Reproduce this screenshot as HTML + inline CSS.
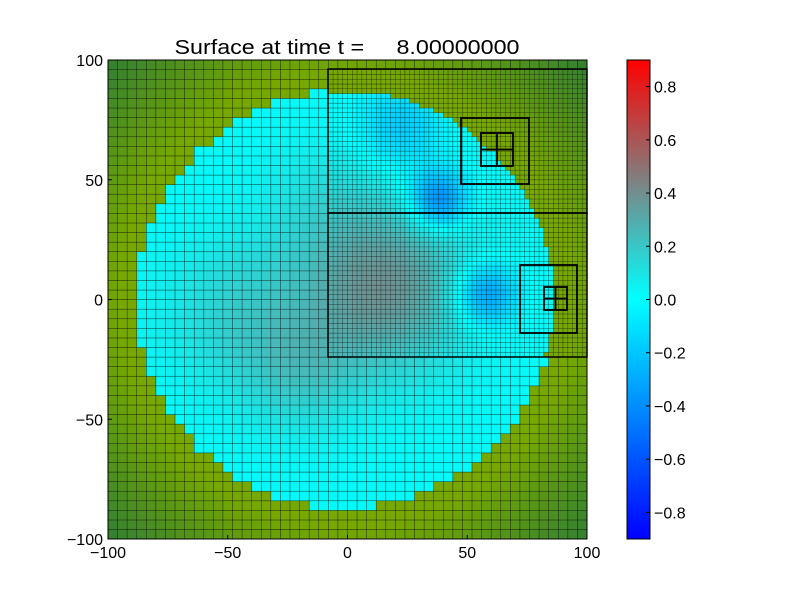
<!DOCTYPE html>
<html><head><meta charset="utf-8"><style>
body{margin:0;background:#fff;width:800px;height:600px;overflow:hidden}
svg{display:block}
text{font-family:"Liberation Sans",sans-serif;font-size:16px;fill:#000;white-space:pre}
</style></head><body>
<svg id="s" width="800" height="600" xmlns="http://www.w3.org/2000/svg">
<defs>
<linearGradient id="cb" x1="0" y1="1" x2="0" y2="0">
<stop offset="0" stop-color="#0000ff"/><stop offset="0.5" stop-color="#00ffff"/>
<stop offset="0.75" stop-color="#808080"/><stop offset="1" stop-color="#ff0000"/>
</linearGradient>
</defs>
<g id="cells"></g>
<g id="lines" stroke="#000" fill="none"></g>
<rect x="108" y="60" width="479" height="479" fill="none" stroke="#000" stroke-width="1"/>
<rect x="627" y="60" width="23" height="479" fill="url(#cb)" stroke="#000" stroke-width="1"/>
<text x="347" y="54" text-anchor="middle" xml:space="preserve" style="font-size:20px" textLength="345" lengthAdjust="spacingAndGlyphs">Surface at time t =     8.00000000</text>
<g id="ticks"></g>
</svg>
<script>
const X=x=>108+(x+100)*2.395, Y=y=>60+(100-y)*2.395;
function cmap(v){v=Math.max(-0.9,Math.min(0.9,v));let st=[[-0.9,0,0,255],[0,0,255,255],[0.45,128,128,128],[0.9,255,0,0]];
for(let i=0;i<3;i++){let a=st[i],b=st[i+1];if(v<=b[0]){let t=(v-a[0])/(b[0]-a[0]);return `rgb(${Math.round(a[1]+t*(b[1]-a[1]))},${Math.round(a[2]+t*(b[2]-a[2]))},${Math.round(a[3]+t*(b[3]-a[3]))})`}}}
function g(x,y,cx,cy,r){return Math.exp(-((x-cx)**2+(y-cy)**2)/(r*r))}
function col(x,y){let r=Math.hypot(x+1,y);
 if(r<87){let v=0.02+0.36*g(x,y,15,5,34)-0.45*g(x,y,38,42,12)-0.38*g(x,y,58,2,13)+0.14*g(x,y,-45,-5,30)-0.2*g(x,y,22,72,18)+0.08*g(x,y,-10,40,25)+0.15*g(x,y,-20,-30,25);
  return cmap(v);}
 let R=Math.hypot(x,y),t=Math.max(0,Math.min(1,(R-95)/45));
 return `rgb(${Math.round(118-t*66)},${Math.round(168-t*40)},${Math.round(t*50)})`;}
let cells='',lines='';
const inFine=(x,y)=>x>=-8&&x<100&&y>=-24&&y<96;
for(let i=0;i<50;i++)for(let j=0;j<50;j++){let x=-100+i*4,y=-100+j*4;
 if(inFine(x+2,y+2)&&inFine(x+1,y+1))continue;
 cells+=`<rect x="${X(x).toFixed(2)}" y="${Y(y+4).toFixed(2)}" width="9.7" height="9.7" fill="${col(x+2,y+2)}" stroke="#000" stroke-opacity="0.55" stroke-width="0.6"/>`;}
for(let x=-8;x<100;x+=2)for(let y=-24;y<96;y+=2){
 cells+=`<rect x="${X(x).toFixed(2)}" y="${Y(y+2).toFixed(2)}" width="4.85" height="4.85" fill="${col(x+1,y+1)}" stroke="#000" stroke-opacity="0.5" stroke-width="0.5"/>`;}
let b='';
b+=`<rect x="328" y="69" width="259" height="144" stroke-width="1.5"/>`;
b+=`<rect x="328" y="213" width="259" height="144" stroke-width="1.5"/>`;
b+=`<rect x="461" y="118" width="68" height="66" stroke-width="1.8"/>`;
b+=`<rect x="481" y="133" width="32" height="33" stroke-width="1.8"/><line x1="497" y1="133" x2="497" y2="166" stroke-width="1.8"/><line x1="481" y1="149.5" x2="513" y2="149.5" stroke-width="1.8"/>`;
b+=`<rect x="520" y="265" width="57" height="68" stroke-width="1.8"/>`;
b+=`<rect x="544" y="287" width="23" height="23" stroke-width="1.8"/><line x1="555.5" y1="287" x2="555.5" y2="310" stroke-width="1.8"/><line x1="544" y1="298.5" x2="567" y2="298.5" stroke-width="1.8"/>`;
document.getElementById('cells').innerHTML=cells;
document.getElementById('lines').innerHTML=b;
let t='';
[-100,-50,0,50,100].forEach(v=>{let s=v<0?'\u2212'+(-v):''+v;
 t+=`<text x="${X(v)}" y="558" text-anchor="middle">${s}</text>`;
 t+=`<text x="103" y="${Y(v)+6}" text-anchor="end">${s}</text>`;
 t+=`<line x1="${X(v)}" y1="539" x2="${X(v)}" y2="535" stroke="#000"/><line x1="108" y1="${Y(v)}" x2="112" y2="${Y(v)}" stroke="#000"/>`;});
for(let k=-4;k<=4;k++){let v=k*0.2,y=539-(v+0.9)/1.8*479;let s=(v<0?'\u2212':'')+Math.abs(v).toFixed(1);
 t+=`<text x="654" y="${y+6}">${s}</text><line x1="646" y1="${y}" x2="650" y2="${y}" stroke="#000"/>`;}
document.getElementById('ticks').innerHTML=t;
</script>
</body></html>
